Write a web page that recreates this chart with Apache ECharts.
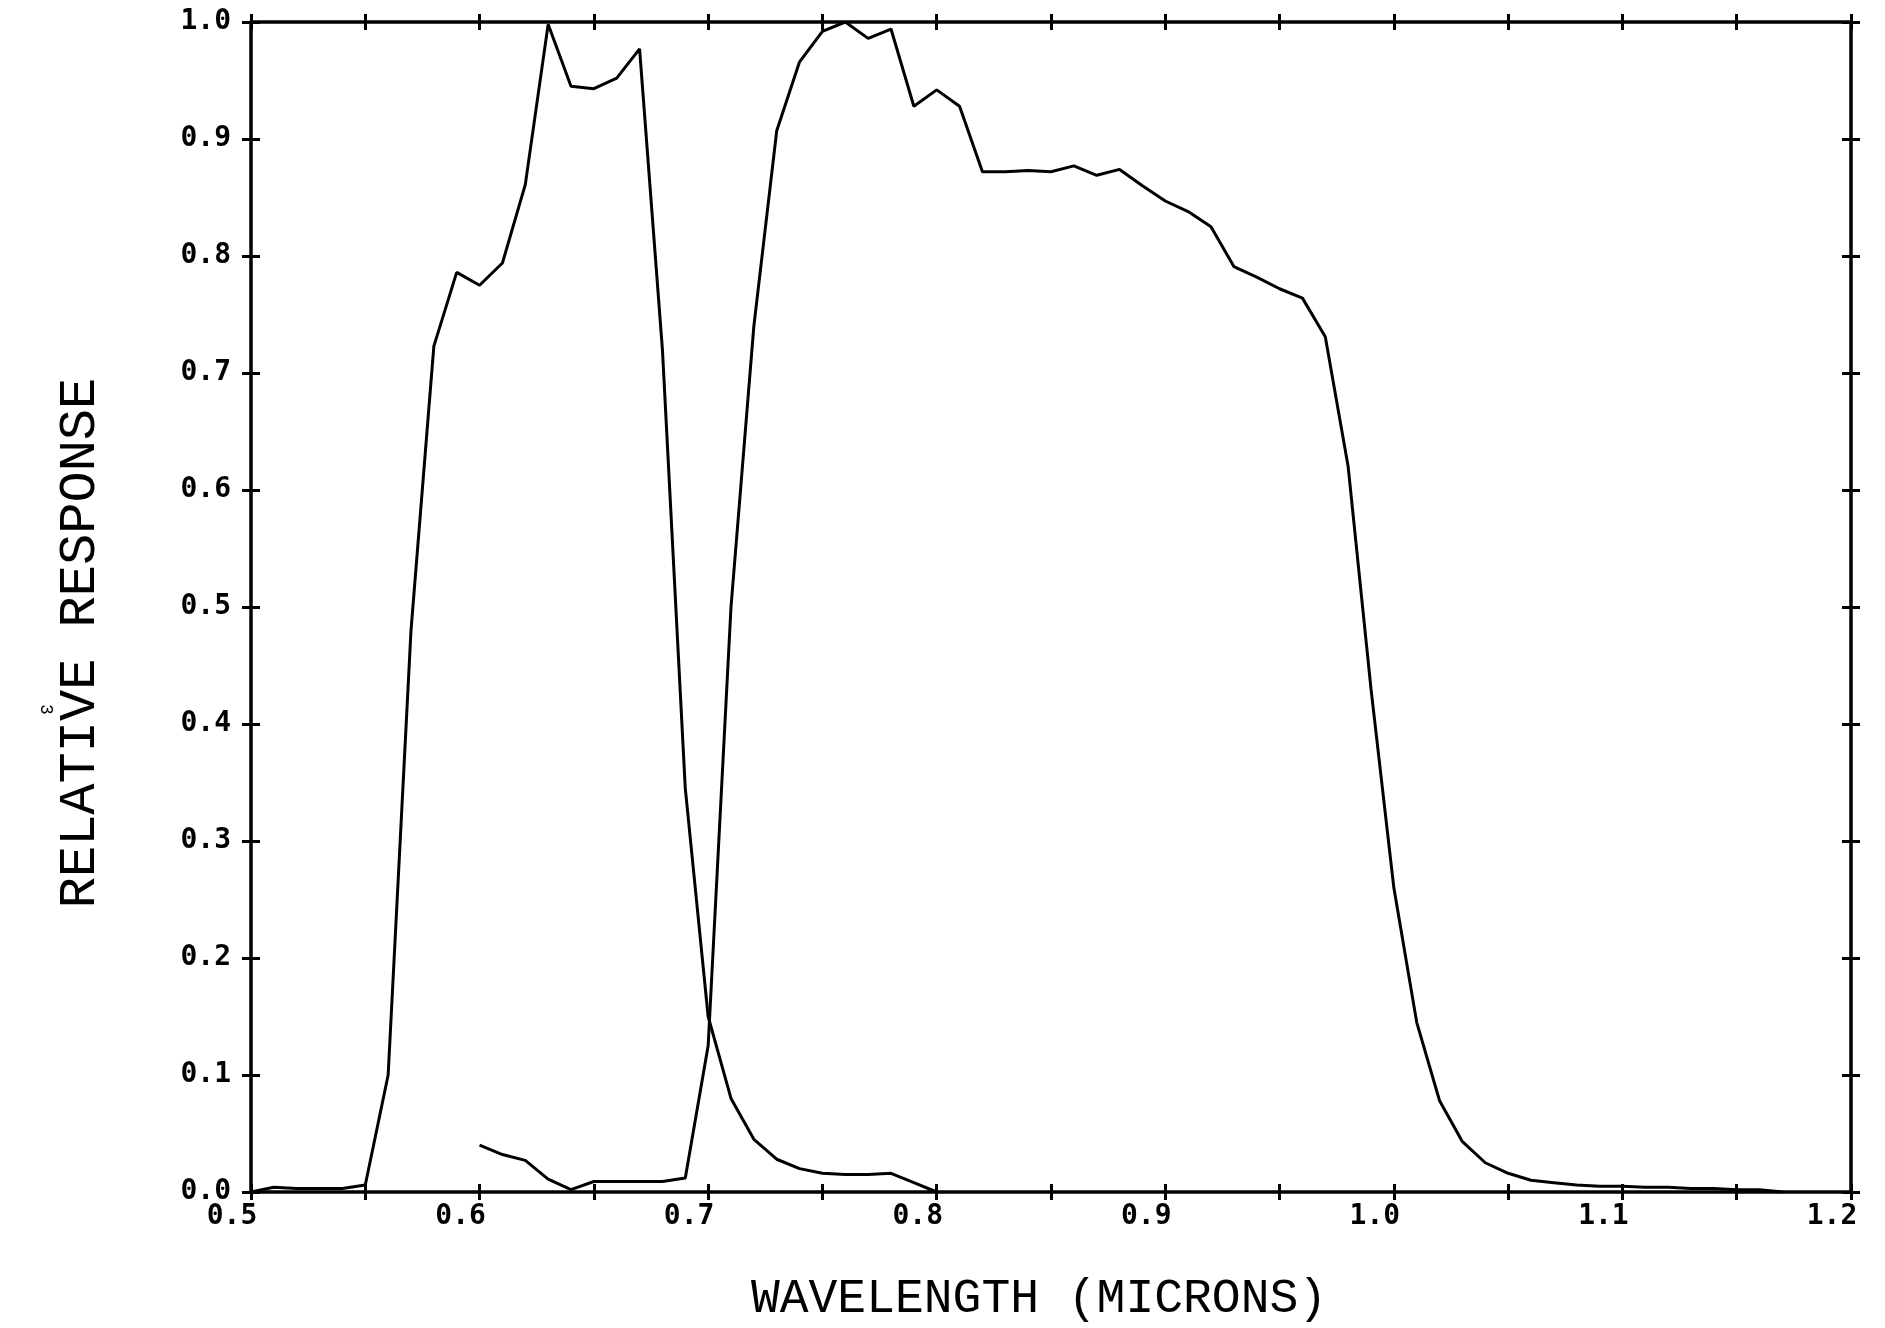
<!DOCTYPE html>
<html>
<head>
<meta charset="utf-8">
<script src="https://cdn.jsdelivr.net/npm/echarts@6/dist/echarts.min.js"></script>
<style>
  html, body { margin: 0; padding: 0; background: #ffffff; }
  #chart { width: 1885px; height: 1328px; }
</style>
</head>
<body>
<div id="chart"></div>
<script>
// ---- data ----
const wavelengthA = [0.50,0.51,0.52,0.53,0.54,0.55,0.56,0.57,0.58,0.59,0.60,0.61,0.62,0.63,0.64,0.65,0.66,0.67,0.68,0.69,0.70,0.71,0.72,0.73,0.74,0.75,0.76,0.77,0.78,0.79,0.80];
const responseA   = [0.000,0.004,0.003,0.003,0.003,0.006,0.100,0.480,0.723,0.786,0.775,0.794,0.861,0.998,0.945,0.943,0.952,0.977,0.720,0.345,0.150,0.080,0.045,0.028,0.020,0.016,0.015,0.015,0.016,0.008,0.000];

const wavelengthB = [0.60,0.61,0.62,0.63,0.64,0.65,0.66,0.67,0.68,0.69,0.70,0.71,0.72,0.73,0.74,0.75,0.76,0.77,0.78,0.79,0.80,0.81,0.82,0.83,0.84,0.85,0.86,0.87,0.88,0.89,0.90,0.91,0.92,0.93,0.94,0.95,0.96,0.97,0.98,0.99,1.00,1.01,1.02,1.03,1.04,1.05,1.06,1.07,1.08,1.09,1.10,1.11,1.12,1.13,1.14,1.15,1.16,1.17];
const responseB   = [0.040,0.032,0.027,0.011,0.002,0.009,0.009,0.009,0.009,0.012,0.125,0.500,0.740,0.907,0.966,0.992,1.000,0.986,0.994,0.928,0.942,0.928,0.872,0.872,0.873,0.872,0.877,0.869,0.874,0.860,0.847,0.838,0.825,0.791,0.782,0.772,0.764,0.731,0.620,0.430,0.260,0.145,0.078,0.043,0.025,0.016,0.010,0.008,0.006,0.005,0.005,0.004,0.004,0.003,0.003,0.002,0.002,0.000];

const xTickValues = [0.5,0.6,0.7,0.8,0.9,1.0,1.1,1.2];
const xTickLabels = ['0.5','0.6','0.7','0.8','0.9','1.0','1.1','1.2'];
const yTickValues = [0.0,0.1,0.2,0.3,0.4,0.5,0.6,0.7,0.8,0.9,1.0];
const yTickLabels = ['0.0','0.1','0.2','0.3','0.4','0.5','0.6','0.7','0.8','0.9','1.0'];

const xTitle = 'WAVELENGTH (MICRONS)';
const yTitle = 'RELATIVE RESPONSE';
const pageMark = '3';

// ---- helpers ----
function lookup(values, labels, v) {
  for (let i = 0; i < values.length; i++) {
    if (Math.abs(values[i] - v) < 1e-6) return labels[i];
  }
  return '';
}
function pairs(xs, ys) { return xs.map((x, i) => [x, ys[i]]); }

const INK = '#000000';
const labelFont = { color: INK, fontFamily: 'DejaVu Sans Mono', fontWeight: 'bold', fontSize: 28 };

function xAx(pos, inside, withLine, withLabel) {
  return {
    type: 'value', position: pos, min: 0.5, max: 1.2, interval: 0.05,
    axisLine: { show: withLine, onZero: false, lineStyle: { color: INK, width: 3.5 } },
    axisTick: { show: true, inside: inside, length: 8, lineStyle: { color: INK, width: 3 } },
    axisLabel: withLabel ? Object.assign({
      show: true, margin: 11, padding: [0, 38, 0, 0],
      formatter: v => lookup(xTickValues, xTickLabels, v)
    }, labelFont) : { show: false },
    splitLine: { show: false }
  };
}
function yAx(pos, inside, withLine, withLabel) {
  return {
    type: 'value', position: pos, min: 0, max: 1, interval: 0.1,
    axisLine: { show: withLine, onZero: false, lineStyle: { color: INK, width: 3.5 } },
    axisTick: { show: true, inside: inside, length: 9, lineStyle: { color: INK, width: 3 } },
    axisLabel: withLabel ? Object.assign({
      show: true, margin: 20,
      formatter: v => lookup(yTickValues, yTickLabels, v)
    }, labelFont) : { show: false },
    splitLine: { show: false }
  };
}

const xAxes = [
  Object.assign(xAx('bottom', false, true, true), {
    name: xTitle, nameLocation: 'middle', nameGap: 83,
    nameTextStyle: { color: INK, fontFamily: 'Liberation Mono', fontSize: 48, padding: [0, 24, 0, 0] }
  }),
  xAx('bottom', true, false, false),
  xAx('top', false, true, false),
  xAx('top', true, false, false)
];
const yAxes = [
  Object.assign(yAx('left', false, true, true), {
    name: yTitle, nameLocation: 'middle', nameGap: 145,
    nameTextStyle: { color: INK, fontFamily: 'Liberation Mono', fontSize: 52, padding: [0, 72, 0, 0] }
  }),
  yAx('left', true, false, false),
  yAx('right', false, true, false),
  yAx('right', true, false, false)
];

const chart = echarts.init(document.getElementById('chart'), null, { renderer: 'canvas' });
chart.setOption({
  backgroundColor: '#ffffff',
  animation: false,
  grid: { left: 251, right: 34, top: 22, bottom: 117, containLabel: false },
  xAxis: xAxes,
  yAxis: yAxes,
  graphic: [{
    type: 'text', left: 37, top: 704, rotation: -Math.PI / 2,
    style: { text: pageMark, fill: INK, font: '18px "Liberation Mono"' }
  }],
  series: [
    {
      name: 'Band A', type: 'line', xAxisIndex: 0, yAxisIndex: 0,
      data: pairs(wavelengthA, responseA), showSymbol: false, symbol: 'none',
      lineStyle: { color: INK, width: 3 }, silent: true
    },
    {
      name: 'Band B', type: 'line', xAxisIndex: 0, yAxisIndex: 0,
      data: pairs(wavelengthB, responseB), showSymbol: false, symbol: 'none',
      lineStyle: { color: INK, width: 3 }, silent: true
    }
  ]
});
</script>
</body>
</html>
